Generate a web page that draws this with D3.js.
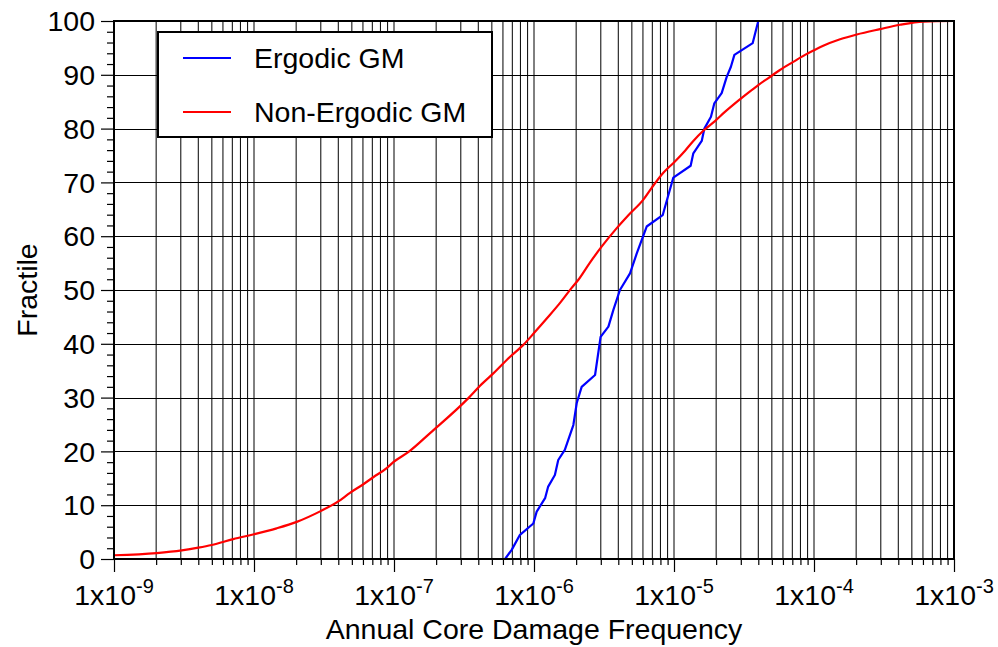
<!DOCTYPE html>
<html>
<head>
<meta charset="utf-8">
<script src="https://cdn.jsdelivr.net/npm/d3@7/dist/d3.min.js"></script>
<style>
	body { margin: 0; background: #fff; }
	svg { display: block; }
	text { font-family: "Liberation Sans", Arial, Helvetica, sans-serif; fill: #000; }
</style>
</head>
<body>
<svg id="chart" width="998" height="647"></svg>
<script>
//***************************************************************************
// Data

// Ergodic GM : annual core damage frequency, fractile
var ergodicFreq = [6.21e-7, 6.93e-7, 7.94e-7, 9.89e-7, 1.045e-6, 1.20e-6, 1.26e-6,
	1.41e-6, 1.49e-6, 1.66e-6, 1.91e-6, 2.02e-6, 2.19e-6, 2.73e-6, 2.99e-6, 3.40e-6,
	3.69e-6, 4.11e-6, 4.85e-6, 5.42e-6, 6.38e-6, 8.30e-6, 9.89e-6, 1.315e-5, 1.374e-5,
	1.578e-5, 1.648e-5, 1.837e-5, 1.941e-5, 2.19e-5, 2.38e-5, 2.55e-5, 2.70e-5,
	3.65e-5, 4.00e-5];
var ergodicFrac = [0, 1.7, 4.5, 6.6, 8.8, 11.3, 13.4,
	15.6, 18.4, 20.3, 24.9, 29.0, 32.0, 34.2, 41.3, 43.2,
	46.3, 50.0, 53.1, 56.8, 61.8, 63.9, 70.9, 73.1, 75.4,
	77.7, 80.0, 82.2, 84.7, 86.6, 89.6, 91.5, 93.7,
	95.9, 100];

// Non-Ergodic GM
var nonErgodicFreq = [1e-9, 2.02e-9, 3.05e-9, 4.00e-9, 4.99e-9, 7.11e-9, 1e-8,
	1.45e-8, 2.02e-8, 2.99e-8, 4.00e-8, 4.85e-8, 6.04e-8, 7.11e-8, 8.87e-8, 9.89e-8,
	1.285e-7, 1.81e-7, 3.40e-7, 4.23e-7, 5.12e-7, 6.75e-7, 8.39e-7, 1e-6, 1.233e-6,
	1.535e-6, 1.858e-6, 2.075e-6, 2.51e-6, 3.05e-6, 3.90e-6, 4.72e-6, 6.04e-6,
	6.93e-6, 8.39e-6, 1.016e-5, 1.20e-5, 1.374e-5, 1.618e-5, 1.963e-5, 2.31e-5,
	2.88e-5, 3.40e-5, 4.00e-5, 4.72e-5, 5.71e-5, 7.11e-5, 8.63e-5, 9.89e-5,
	1.164e-4, 1.535e-4, 2.02e-4, 2.96e-4, 4.11e-4, 6.04e-4, 1e-3];
var nonErgodicFrac = [0.7, 1.1, 1.6, 2.1, 2.6, 3.7, 4.6,
	5.7, 6.9, 8.9, 10.7, 12.3, 13.9, 15.2, 16.9, 18.0,
	20.0, 23.4, 29.9, 32.5, 34.5, 37.6, 39.8, 42.0, 44.7,
	47.6, 50.4, 51.9, 55.1, 58.1, 61.5, 63.9, 66.8,
	69.0, 71.8, 73.9, 75.9, 77.7, 79.6, 81.4, 83.1,
	85.2, 86.7, 88.1, 89.4, 90.9, 92.4, 93.7, 94.5,
	95.4, 96.6, 97.5, 98.5, 99.3, 99.9, 100];

var decadeTicks = [1e-9, 1e-8, 1e-7, 1e-6, 1e-5, 1e-4, 1e-3];
var decadeExponents = ["-9", "-8", "-7", "-6", "-5", "-4", "-3"];
var minorMultipliers = [2, 3, 4, 5, 6, 7, 8, 9];
var fractileTicks = [0, 10, 20, 30, 40, 50, 60, 70, 80, 90, 100];
var fractileMinorTicks = [2, 4, 6, 8, 12, 14, 16, 18, 22, 24, 26, 28, 32, 34, 36, 38,
	42, 44, 46, 48, 52, 54, 56, 58, 62, 64, 66, 68, 72, 74, 76, 78, 82, 84, 86, 88,
	92, 94, 96, 98];

var seriesNames = ["Ergodic GM", "Non-Ergodic GM"];
var seriesColors = ["#0000ff", "#ff0000"];

//***************************************************************************
// Layout

var svg = d3.select("#chart");
var plot = {left: 114, right: 954, top: 21, bottom: 559};
var fontSize = 28.5;

var x = d3.scaleLog()
	.domain([1e-9, 1e-3])
	.range([plot.left, plot.right]);

var y = d3.scaleLinear()
	.domain([0, 100])
	.range([plot.bottom, plot.top]);

var minorFreq = [];
for (var i = 0; i < decadeTicks.length - 1; ++i) {
	for (var j = 0; j < minorMultipliers.length; ++j) {
		minorFreq.push(decadeTicks[i] * minorMultipliers[j]);
	}
}

//***************************************************************************
// Grid

var grid = svg.append("g").attr("stroke", "#000").attr("stroke-width", 1);

grid.selectAll("line.v")
	.data(minorFreq.concat(decadeTicks.slice(1, -1)))
	.enter().append("line")
	.attr("x1", function(d) { return x(d); })
	.attr("x2", function(d) { return x(d); })
	.attr("y1", plot.top)
	.attr("y2", plot.bottom);

grid.selectAll("line.h")
	.data(fractileTicks.slice(1, -1))
	.enter().append("line")
	.attr("x1", plot.left)
	.attr("x2", plot.right)
	.attr("y1", function(d) { return Math.round(y(d)) + 0.5; })
	.attr("y2", function(d) { return Math.round(y(d)) + 0.5; });

//***************************************************************************
// Axes

var xMajor = svg.append("g")
	.attr("transform", "translate(0," + plot.bottom + ")")
	.call(d3.axisBottom(x).tickValues(decadeTicks).tickSize(13).tickFormat(""));
var xMinor = svg.append("g")
	.attr("transform", "translate(0," + plot.bottom + ")")
	.call(d3.axisBottom(x).tickValues(minorFreq).tickSize(6).tickFormat(""));

var yMajor = svg.append("g")
	.attr("transform", "translate(" + plot.left + ",0)")
	.call(d3.axisLeft(y).tickValues(fractileTicks).tickSize(13).tickFormat(""));
var yMinor = svg.append("g")
	.attr("transform", "translate(" + plot.left + ",0)")
	.call(d3.axisLeft(y).tickValues(fractileMinorTicks).tickSize(7).tickFormat(""));

[xMajor, xMinor, yMajor, yMinor].forEach(function(g) {
	g.select(".domain").remove();
	g.selectAll("line").attr("stroke", "#000").attr("stroke-width", 1.2);
});

// y tick labels
svg.append("g").selectAll("text")
	.data(fractileTicks)
	.enter().append("text")
	.attr("x", 95)
	.attr("y", function(d) { return y(d); })
	.attr("dy", "0.36em")
	.attr("text-anchor", "end")
	.attr("font-size", fontSize)
	.text(function(d) { return d; });

// x tick labels : 1x10^n
var xLabels = svg.append("g").selectAll("text")
	.data(decadeTicks)
	.enter().append("text")
	.attr("x", function(d) { return x(d); })
	.attr("y", 605)
	.attr("text-anchor", "middle")
	.attr("font-size", fontSize);
xLabels.append("tspan").text("1x10");
xLabels.append("tspan")
	.attr("font-size", 20)
	.attr("dy", -12)
	.text(function(d, i) { return decadeExponents[i]; });

// axis titles
svg.append("text")
	.attr("x", (plot.left + plot.right) / 2)
	.attr("y", 639)
	.attr("text-anchor", "middle")
	.attr("font-size", fontSize)
	.text("Annual Core Damage Frequency");

svg.append("text")
	.attr("transform", "translate(37," + ((plot.top + plot.bottom) / 2) + ") rotate(-90)")
	.attr("text-anchor", "middle")
	.attr("font-size", fontSize)
	.text("Fractile");

//***************************************************************************
// Curves

var line = d3.line()
	.x(function(d) { return x(d[0]); })
	.y(function(d) { return y(d[1]); });

var smoothLine = d3.line()
	.curve(d3.curveMonotoneX)
	.x(function(d) { return x(d[0]); })
	.y(function(d) { return y(d[1]); });

svg.append("path")
	.datum(d3.zip(ergodicFreq, ergodicFrac))
	.attr("fill", "none")
	.attr("stroke", seriesColors[0])
	.attr("stroke-width", 2.2)
	.attr("stroke-linejoin", "round")
	.attr("d", line);

svg.append("path")
	.datum(d3.zip(nonErgodicFreq, nonErgodicFrac))
	.attr("fill", "none")
	.attr("stroke", seriesColors[1])
	.attr("stroke-width", 2.2)
	.attr("stroke-linejoin", "round")
	.attr("d", smoothLine);

// frame
svg.append("rect")
	.attr("x", plot.left)
	.attr("y", plot.top)
	.attr("width", plot.right - plot.left)
	.attr("height", plot.bottom - plot.top)
	.attr("fill", "none")
	.attr("stroke", "#000")
	.attr("stroke-width", 2);

//***************************************************************************
// Legend

var legend = svg.append("g");
legend.append("rect")
	.attr("x", 158)
	.attr("y", 32)
	.attr("width", 334)
	.attr("height", 105)
	.attr("fill", "#fff")
	.attr("stroke", "#000")
	.attr("stroke-width", 2);

var legendRows = legend.selectAll("g.row")
	.data(seriesNames)
	.enter().append("g")
	.attr("transform", function(d, i) { return "translate(0," + (58 + i * 54) + ")"; });

legendRows.append("line")
	.attr("x1", 183)
	.attr("x2", 231)
	.attr("stroke", function(d, i) { return seriesColors[i]; })
	.attr("stroke-width", 2.2);

legendRows.append("text")
	.attr("x", 254)
	.attr("dy", "0.36em")
	.attr("font-size", fontSize)
	.text(function(d) { return d; });
</script>
</body>
</html>
